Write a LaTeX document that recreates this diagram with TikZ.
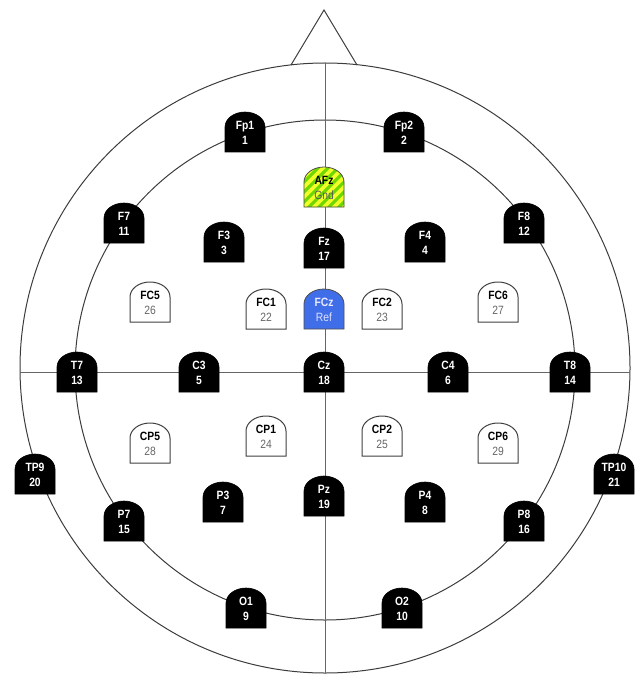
\documentclass[tikz,border=0pt]{standalone}
\usepackage{fontspec}
\setmainfont{Liberation Sans}
\newfontfamily\elfont[FakeStretch=0.86]{Liberation Sans}
\definecolor{refblue}{RGB}{64,110,232}
\definecolor{gndgreen}{RGB}{110,215,0}
\definecolor{gndyellow}{RGB}{240,255,40}
\definecolor{linegray}{RGB}{60,60,60}
\tikzset{
  headline/.style={draw=linegray, line width=1pt},
  crossline/.style={draw=black!60, line width=1pt},
  elab/.style={inner sep=0pt, text height=8.5pt, text depth=0pt, font=\elfont\fontsize{12}{13}\selectfont\bfseries},
  enumb/.style={inner sep=0pt, text height=8.5pt, text depth=0pt, font=\elfont\fontsize{12}{13}\selectfont\bfseries},
  blk box/.style={fill=black, draw=black, line width=0.6pt},
  blk lab/.style={elab, text=white},
  blk num/.style={enumb, text=white},
  wht box/.style={fill=white, draw=black!75, line width=1pt},
  wht lab/.style={elab, text=black},
  wht num/.style={enumb, text=black!60, font=\elfont\fontsize{12}{13}\selectfont},
  ref box/.style={fill=refblue, draw=black!70, line width=0.8pt},
  ref lab/.style={elab, text=white!92!blue},
  ref num/.style={enumb, text=white!88!blue, font=\elfont\fontsize{12}{13}\selectfont},
  gnd box/.style={fill=gndgreen, draw=black!70, line width=0.8pt,
    path picture={\foreach \k in {-80,-70,...,80}{
      \draw[gndyellow, line width=3.6pt] ([xshift=\k pt]path picture bounding box.center) ++(-30,30) -- ++(60,-60);}}},
  gnd lab/.style={elab, text=black},
  gnd num/.style={enumb, text=black!65, font=\elfont\fontsize{12}{13}\selectfont},
}
\newcommand\electrode[6]{%
  \path[#6 box] (#2-20,#3+20) -- (#2-20,#3-5) arc[start angle=180,end angle=360,x radius=20,y radius=15] -- (#2+20,#3+20) -- cycle;
  \node[#6 lab] (#1) at (#2,#3-6.5) {#4};
  \node[#6 num] (#1-n) at (#2,#3+8.5) {#5};
}
\begin{document}
\begin{tikzpicture}[x=1pt,y=-1pt]
\useasboundingbox (0,0) rectangle (638,679);
% head geometry
\coordinate (headc) at (325,368);
\coordinate (innc) at (325,370);
\coordinate (L) at (20,372);
\coordinate (R) at (630,372);
\coordinate (T) at (325,63);
\coordinate (B) at (325,673);
\coordinate (noseL) at (291,65);
\coordinate (noseR) at (357,65);
\coordinate (apex) at (324,10);
\draw[headline] (noseL) -- (apex) -- (noseR);
\draw[headline] (headc) circle[radius=305];
\draw[headline] (innc) circle[radius=250];
\draw[crossline] (L) -- (R);
\draw[crossline] (T) -- (B);
% electrodes
\electrode{Fp1}{245}{132}{Fp1}{1}{blk}
\electrode{Fp2}{404}{132}{Fp2}{2}{blk}
\electrode{AFz}{324}{187}{AFz}{Gnd}{gnd}
\electrode{F7}{124}{223}{F7}{11}{blk}
\electrode{F3}{224}{242}{F3}{3}{blk}
\electrode{Fz}{324}{248}{Fz}{17}{blk}
\electrode{F4}{425}{242}{F4}{4}{blk}
\electrode{F8}{524}{223}{F8}{12}{blk}
\electrode{FC5}{150}{302}{FC5}{26}{wht}
\electrode{FC1}{266}{309}{FC1}{22}{wht}
\electrode{FCz}{324}{309}{FCz}{Ref}{ref}
\electrode{FC2}{382}{309}{FC2}{23}{wht}
\electrode{FC6}{498}{302}{FC6}{27}{wht}
\electrode{T7}{77}{372}{T7}{13}{blk}
\electrode{C3}{199}{372}{C3}{5}{blk}
\electrode{Cz}{324}{372}{Cz}{18}{blk}
\electrode{C4}{448}{372}{C4}{6}{blk}
\electrode{T8}{570}{372}{T8}{14}{blk}
\electrode{CP5}{150}{443}{CP5}{28}{wht}
\electrode{CP1}{266}{436}{CP1}{24}{wht}
\electrode{CP2}{382}{436}{CP2}{25}{wht}
\electrode{CP6}{498}{443}{CP6}{29}{wht}
\electrode{TP9}{35}{474}{TP9}{20}{blk}
\electrode{TP10}{614}{474}{TP10}{21}{blk}
\electrode{P7}{124}{521}{P7}{15}{blk}
\electrode{P3}{223}{502}{P3}{7}{blk}
\electrode{Pz}{324}{496}{Pz}{19}{blk}
\electrode{P4}{425}{502}{P4}{8}{blk}
\electrode{P8}{524}{521}{P8}{16}{blk}
\electrode{O1}{246}{608}{O1}{9}{blk}
\electrode{O2}{402}{608}{O2}{10}{blk}
\end{tikzpicture}
\end{document}
